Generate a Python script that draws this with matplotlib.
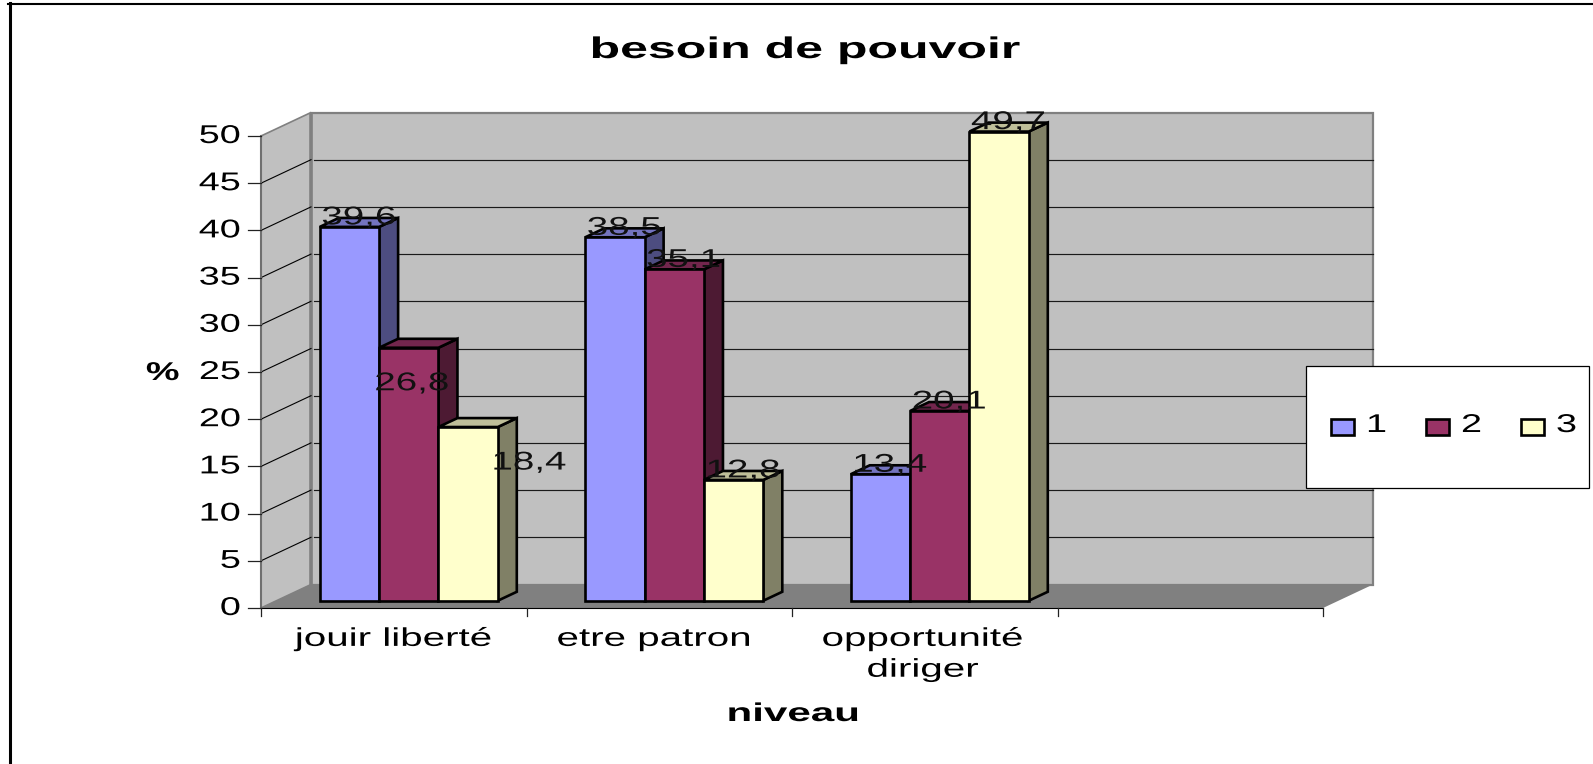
import matplotlib
matplotlib.use("Agg")
import matplotlib.pyplot as plt
from matplotlib.patches import Polygon, Rectangle
from matplotlib.patheffects import AbstractPathEffect
from matplotlib.transforms import Affine2D

categories = ["jouir liberté", "etre patron", "opportunité\ndiriger", ""]
series_names = ["1", "2", "3"]
serie_1 = [39.6, 38.5, 13.4]
serie_2 = [26.8, 35.1, 20.1]
serie_3 = [18.4, 12.8, 49.7]
y_ticks = list(range(0, 55, 5))
title = "besoin de pouvoir"
x_title = "niveau"
y_title = "%"

W, H = 1593, 764
front_colors = ["#9999FF", "#993366", "#FFFFCC"]
side_colors = ["#4D4D80", "#4D1A33", "#808066"]
top_colors = ["#7373BF", "#73264D", "#BFBF99"]

plt.rcParams["font.family"] = ["Liberation Sans", "DejaVu Sans"]
fig = plt.figure(figsize=(W / 100, H / 100), dpi=100, facecolor="white")


class Stretch(AbstractPathEffect):
    """Widen a text horizontally around its anchor (the source chart is stretched)."""

    def __init__(self, text, sx, anchor="center"):
        super().__init__()
        self.text, self.sx, self.anchor = text, sx, anchor

    def draw_path(self, renderer, gc, tpath, affine, rgbFace=None):
        bb = self.text.get_window_extent(fig.canvas.get_renderer())
        p = {"left": bb.x0, "right": bb.x1, "center": (bb.x0 + bb.x1) / 2}[self.anchor]
        aff = affine + Affine2D().translate(-p, 0).scale(self.sx, 1).translate(p, 0)
        renderer.draw_path(gc, tpath, aff, rgbFace)


def widen(text, sx=1.5, anchor="center"):
    text.set_path_effects([Stretch(text, sx, anchor)])
    return text


# Axes spans the front plane of the chart
L, R, T, B = 261, 1323, 136, 608
ax = fig.add_axes([L / W, 1 - B / H, (R - L) / W, (B - T) / H])
ax.set_xlim(0, 4)
ax.set_ylim(0, 50)
ax.axis("off")

CAT_PX = (R - L) / 4
VAL_PX = (B - T) / 50
DX = 50 / CAT_PX       # depth shift, in category units
DY = 23.5 / VAL_PX     # depth shift, in value units


def proj(x, y, d=1.0):
    return (x + d * DX, y + d * DY)


def poly(points, fc, ec="none", lw=0, z=1):
    ax.add_patch(Polygon(points, closed=True, facecolor=fc, edgecolor=ec,
                         linewidth=lw, zorder=z, clip_on=False, joinstyle="miter"))


# walls and floor
poly([proj(0, 0), proj(4, 0), proj(4, 50), proj(0, 50)], "#C0C0C0", "#808080", 1.6, 1)
poly([(0, 0), proj(0, 0), proj(0, 50), (0, 50)], "#C0C0C0", "#808080", 1.2, 1)
ax.plot([proj(0, 0)[0]] * 2, [proj(0, 0)[1], proj(0, 50)[1]], color="#808080", lw=2.6,
        zorder=1.1, clip_on=False, solid_capstyle="butt")
poly([(0, 0), (4, 0), proj(4, 0), proj(0, 0)], "#808080", "none", 0, 1.5)

# gridlines
for v in y_ticks[1:-1]:
    ax.plot([0, proj(0, v)[0]], [v, proj(0, v)[1]], color="black", lw=0.8, zorder=1.2,
            clip_on=False)
    ax.plot([proj(0, v)[0] + 0.01, proj(4, v)[0]], [proj(0, v)[1]] * 2, color="#1a1a1a",
            lw=0.85, zorder=1.2, clip_on=False)

# axes lines and ticks
ax.plot([0, 0], [0, 50], color="#707070", lw=1.5, zorder=3, clip_on=False)
ax.plot([0, 4], [0, 0], color="black", lw=0.8, zorder=1.6, clip_on=False)
tick_x = 13 / CAT_PX
tick_y = 8 / VAL_PX
for v in y_ticks:
    ax.plot([-tick_x, 0], [v, v], color="#222222", lw=0.9, clip_on=False, zorder=3)
    widen(ax.text(-20 / CAT_PX, v, str(v), ha="right", va="center", fontsize=18.5,
                  color="black"), 1.47, "right")
for i in range(5):
    ax.plot([i, i], [0, -tick_y], color="#222222", lw=0.9, clip_on=False, zorder=3)

cat_shift = [0, -5, -2]
for i, c in enumerate(categories):
    if c:
        widen(ax.text(i + 0.5 + cat_shift[i] / CAT_PX, -2.0, c, ha="center", va="top",
                      fontsize=18.5, linespacing=1.36, color="black"), 1.57)

# bars
d0, d1 = 0.31, 0.69
group_start, bar_w = 0.163, 0.2235
series = [serie_1, serie_2, serie_3]
# label offset in pixels (right, up) from the centre of the bar's top face
default_shift = (0, 5)
label_shift = {(0, 1): (-6.5, -40), (0, 2): (51.5, -40)}

for g in range(3):
    for s in range(3):
        v = series[s][g]
        x0 = g + group_start + s * bar_w
        x1 = x0 + bar_w
        z = 5 + g * 10 + s * 3
        poly([proj(x1, 0, d0), proj(x1, 0, d1), proj(x1, v, d1), proj(x1, v, d0)],
             side_colors[s], "black", 1.9, z)
        poly([proj(x0, v, d0), proj(x1, v, d0), proj(x1, v, d1), proj(x0, v, d1)],
             top_colors[s], "black", 1.9, z)
        poly([proj(x0, 0, d0), proj(x1, 0, d0), proj(x1, v, d0), proj(x0, v, d0)],
             front_colors[s], "black", 1.9, z + 1)
        sx, sy = label_shift.get((g, s), default_shift)
        cx, cy = proj((x0 + x1) / 2, v, (d0 + d1) / 2)
        widen(ax.annotate(f"{v:.1f}".replace(".", ","), (cx, cy),
                          xytext=(sx * 0.72, sy * 0.72), textcoords="offset points",
                          ha="center", va="center", fontsize=18.5, color="#111111",
                          zorder=100, annotation_clip=False), 1.5)

# titles
widen(fig.text(805 / W, 1 - 50 / H, title, ha="center", va="center", fontsize=21.5,
               fontweight="bold"), 1.675)
widen(fig.text(793.5 / W, 1 - 714 / H, x_title, ha="center", va="center", fontsize=18.5,
               fontweight="bold"), 1.64)
widen(fig.text(162.7 / W, 1 - 373 / H, y_title, ha="center", va="center", fontsize=18.5,
               fontweight="bold"), 1.47)

# frame
fig.add_artist(plt.Line2D([9.5 / W, 9.5 / W], [1 - 3 / H, 0], color="black", lw=2.2))
fig.add_artist(plt.Line2D([8 / W, 1], [1 - 4 / H, 1 - 4 / H], color="black", lw=1.5))

# legend box
lx0, lx1, ly0, ly1 = 1306, 1589, 366, 488
fig.add_artist(Rectangle((lx0 / W, 1 - ly1 / H), (lx1 - lx0) / W, (ly1 - ly0) / H,
                         transform=fig.transFigure, facecolor="white", edgecolor="black",
                         lw=0.9, zorder=200))
for i, name in enumerate(series_names):
    bx = 1331 + i * 95
    fig.add_artist(Rectangle((bx / W, 1 - 435 / H), 23 / W, 16 / H, transform=fig.transFigure,
                             facecolor=front_colors[i], edgecolor="black", lw=1.9, zorder=201))
    widen(fig.text((bx + 35) / W, 1 - 425 / H, name, ha="left", va="center", fontsize=18.5,
                   zorder=202), 1.47, "left")

fig.savefig("out.png", dpi=100)
